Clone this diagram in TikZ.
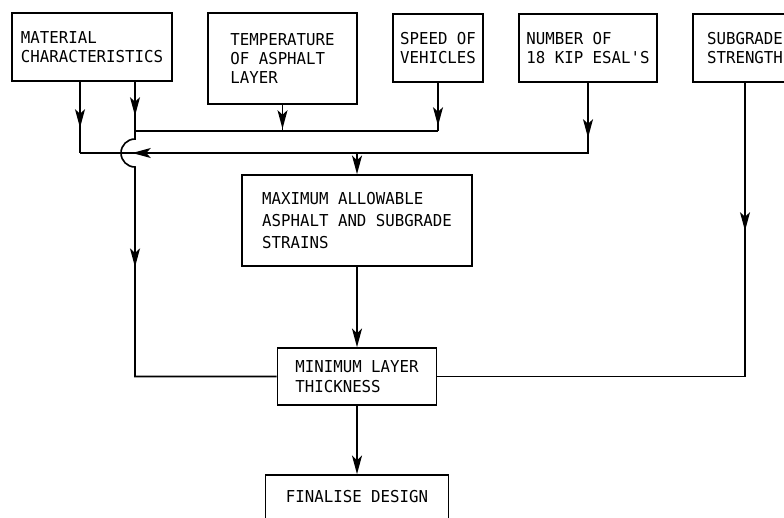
\documentclass[tikz,border=0pt]{standalone}
\usepackage{fontspec}
\setmonofont{DejaVu Sans Mono}[FakeStretch=0.96]
\usepackage{tikz}
\usetikzlibrary{positioning,arrows.meta,decorations.markings}

\begin{document}
\begin{tikzpicture}[
  x=0.3mm, y=-0.3mm,
  every node/.style={font=\ttfamily\fontsize{14pt}{16.6pt}\selectfont},
  box/.style={draw, line width=1.4pt, align=left, inner sep=0pt},
  ln/.style={line width=1.4pt},
  barb/.tip={Stealth[length=5.6mm,width=3mm,inset=1.4mm]},
  midtip/.style={postaction={decorate,decoration={markings,
      mark=at position #1 with {\arrow{barb}}}}},
]
\useasboundingbox (0,0) rectangle (784,517);
\clip (0,0) rectangle (784,517);
% inputs along the top
\node[box, minimum width=48mm, minimum height=20.4mm] (mat) at (92,47) {MATERIAL\\CHARACTERISTICS};
\node[box, minimum width=44.7mm, minimum height=27.3mm] (temp) at (282.5,58.5) {TEMPERATURE\\OF ASPHALT\\LAYER};
\node[box, minimum width=27mm, minimum height=20.4mm] (speed) at (438,48) {SPEED OF\\VEHICLES};
\node[box, minimum width=41.4mm, minimum height=20.4mm] (esal) at (588,48) {NUMBER OF\\18 KIP ESAL'S};
\node[box, minimum width=31.2mm, minimum height=20.4mm] (subg) at (745,48) {SUBGRADE\\STRENGTH};
% design steps
\node[box, minimum width=69mm, minimum height=27.3mm] (maxs) at (357,220.5) {MAXIMUM ALLOWABLE\\[2pt]ASPHALT AND SUBGRADE\\[2pt]STRAINS};
\node[box, minimum width=47.7mm, minimum height=17.1mm] (minl) at (357,376.5) {MINIMUM LAYER\\THICKNESS};
\node[box, minimum width=54.9mm, minimum height=13.2mm] (fin) at (357,497) {FINALISE DESIGN};
\coordinate (cJ) at (135,131);
\coordinate (cL) at (80,153);
% collecting lines
\draw[ln, midtip=13.8mm] (mat.south -| cL) -- (cL);
\draw[ln, midtip=16.5mm, midtip=157.8mm] (esal.south) -- (esal.south |- cL) -- (cL);
\draw[ln, midtip=10.2mm] (mat.south -| cJ) -- (cJ) -- (speed.south |- cJ);
\draw[ln, midtip=7.2mm] (temp.south) -- (temp.south |- cJ);
\draw[ln, midtip=12.9mm] (speed.south) -- (speed.south |- cJ);
\draw[ln, -barb] (maxs.north |- cL) -- (maxs.north);
\draw[ln, midtip=45.6mm] (cJ) -- ++(0,8) arc[start angle=90, end angle=270, radius=4.2mm]
  -- (cJ |- minl) -- (minl.west);
\draw[ln, midtip=44.4mm] (subg.south) -- (subg.south |- minl) -- (minl.east);
\draw[ln, -barb] (maxs.south) -- (minl.north);
\draw[ln, -barb] (minl.south) -- (fin.north);
\end{tikzpicture}
\end{document}
